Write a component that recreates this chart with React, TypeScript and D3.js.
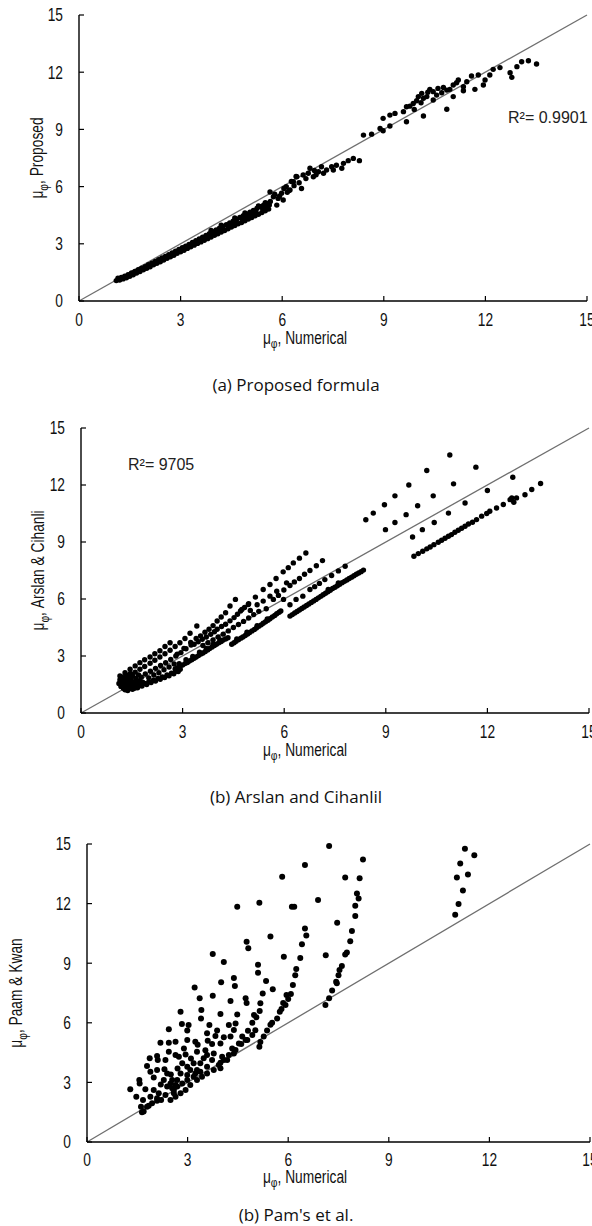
import React from 'react';
import * as d3 from 'd3';

type P = [number, number];

const tickValues = [0, 3, 6, 9, 12, 15];
const tickLabels = ['0', '3', '6', '9', '12', '15'];
const yTitles = ['Proposed', 'Arslan  & Cihanli', 'Paam  & Kwan'];
const captions = ['(a) Proposed formula', '(b) Arslan and Cihanlil', "(b) Pam's et al."];
const r2Labels = ['R²= 0.9901', 'R²= 9705', ''];

const proposedPts: P[] = [
  [1.1,1.07],[1.15,1.2],[1.2,1.1],[1.25,1.24],[1.3,1.16],[1.35,1.3],[1.4,1.22],[1.45,1.38],[1.5,1.3],[1.55,1.47],
  [1.6,1.38],[1.65,1.55],[1.7,1.47],[1.75,1.64],[1.8,1.55],[1.85,1.72],[1.9,1.64],[1.95,1.8],[2.0,1.72],[2.05,1.9],
  [2.1,1.8],[2.15,1.98],[2.2,1.9],[2.25,2.07],[2.3,1.98],[2.35,2.16],[2.4,2.06],[2.45,2.26],[2.5,2.15],[2.55,2.34],
  [2.6,2.24],[2.65,2.43],[2.7,2.32],[2.75,2.52],[2.8,2.4],[2.85,2.61],[2.9,2.5],[2.95,2.7],[3.0,2.58],[3.05,2.79],
  [3.1,2.66],[3.15,2.88],[3.2,2.76],[3.25,2.97],[3.3,2.84],[3.35,3.07],[3.4,2.93],[3.45,3.16],[3.5,3.02],[3.55,3.25],
  [3.6,3.1],[3.65,3.35],[3.7,3.19],[3.75,3.44],[3.8,3.27],[3.85,3.53],[3.9,3.36],[3.95,3.63],[4.0,3.45],[4.05,3.72],
  [4.1,3.53],[4.15,3.82],[4.2,3.62],[4.25,3.91],[4.3,3.7],[4.35,4.0],[4.4,3.79],[4.45,4.1],[4.5,3.88],[4.55,4.19],
  [4.6,3.96],[4.65,4.28],[4.7,4.05],[4.75,4.38],[4.8,4.12],[4.85,4.47],[4.9,4.21],[4.95,4.57],[5.0,4.3],[5.05,4.66],
  [5.1,4.38],[5.15,4.75],[5.2,4.47],[5.25,4.85],[5.3,4.55],[5.35,4.94],[5.4,4.64],[5.45,5.03],[5.5,4.73],[5.55,5.12],
  [5.6,4.82],[5.65,5.22],[5.3,4.98],[5.5,5.15],[4.6,4.35],[4.9,4.62],[4.2,3.98],[3.9,3.7],
  [1.22,1.17],[1.42,1.3],[1.62,1.47],[1.82,1.64],[2.02,1.82],[2.22,1.99],[2.42,2.16],[2.62,2.34],[2.82,2.51],[3.02,2.69],
  [3.22,2.87],[3.42,3.05],[3.62,3.23],[3.82,3.41],[4.02,3.6],[4.22,3.77],[4.42,3.95],[4.62,4.13],[4.82,4.31],[5.02,4.49],
  [5.22,4.67],[5.42,4.86],[5.62,5.03],[3.32,2.95],[3.72,3.31],[4.12,3.68],[4.52,4.05],[4.92,4.41],[5.12,4.6],[5.52,4.94],
  [5.64,5.72],[5.74,5.47],[5.84,5.03],[5.88,5.38],[5.98,5.65],[6.03,5.3],[6.12,6.0],[6.2,5.8],[6.27,6.27],[6.41,6.53],
  [6.23,5.82],[6.33,6.26],[6.43,6.52],[6.57,5.9],[6.62,6.61],[6.77,6.7],[6.82,6.96],[6.92,6.52],[7.07,6.78],[7.16,7.04],
  [7.22,6.7],[7.31,6.87],[7.46,7.04],[7.51,6.87],[7.76,6.96],[7.81,7.22],[7.95,7.36],[8.1,7.48],[8.28,7.36],[6.5,6.2],
  [6.7,6.42],[7.0,6.62],[7.6,7.12],[6.05,5.9],[6.35,6.05],[6.95,6.85],[5.78,5.6],[5.92,5.5],[6.15,5.7],
  [8.4,8.7],[8.64,8.75],[8.89,9.05],[8.98,9.58],[8.98,8.93],[9.18,9.75],[9.18,9.18],[9.33,9.84],[9.58,9.93],[9.67,9.4],
  [9.67,10.19],[9.77,10.22],[9.87,10.36],[9.97,10.5],[10.02,10.72],[10.12,10.89],[10.17,10.63],[10.17,9.7],[10.27,10.72],[10.36,11.1],
  [10.46,10.98],[10.46,10.54],[10.56,10.8],[10.71,10.92],[10.76,11.2],[10.86,11.06],[10.86,10.06],[10.95,11.1],[11.05,11.33],[11.05,10.72],
  [11.15,11.45],[11.2,11.59],[11.35,11.24],[11.35,11.03],[11.45,11.5],[11.59,11.8],[11.69,11.1],[11.79,11.85],[11.94,11.33],[11.99,11.59],
  [12.13,11.85],[12.23,12.15],[12.43,12.24],[12.73,11.97],[12.78,11.73],[12.93,12.29],[13.07,12.55],[13.27,12.6],[13.51,12.43],
  [10.3,10.95],[10.6,11.15],[10.1,10.4],[9.9,10.05]
];

const arslanPts: P[] = [
  [1.3,1.22],[1.38,1.18],[1.45,1.3],[1.52,1.25],[1.6,1.38],[1.67,1.33],[1.74,1.46],[1.8,1.42],[1.88,1.55],[1.94,1.5],
  [2.0,1.64],[2.07,1.6],[2.14,1.72],[2.2,1.68],[2.27,1.82],[2.34,1.78],[2.4,1.9],[2.47,1.87],[2.54,2.0],[2.6,1.96],
  [2.67,2.1],[2.74,2.06],[2.8,2.2],[2.87,2.18],[2.93,2.3],
  [1.12,1.55],[1.15,1.75],[1.18,1.4],[1.2,1.9],[1.22,1.62],[1.25,1.3],[1.28,1.8],[1.3,1.5],[1.33,2.0],[1.35,1.68],
  [1.38,1.38],[1.4,1.88],[1.43,1.55],[1.46,2.08],[1.48,1.75],[1.5,1.45],[1.53,1.95],[1.56,1.62],[1.58,1.3],[1.62,1.82],
  [1.65,1.55],[1.7,2.0],[1.72,1.7],[1.78,1.88],[1.82,1.62],
  [1.15,1.95],[1.3,2.12],[1.45,2.3],[1.6,2.48],[1.74,2.65],[1.88,2.8],[2.04,2.95],[2.18,3.12],[2.33,3.28],[2.48,3.5],[2.63,3.7],
  [1.6,2.15],[1.74,2.3],[1.88,2.45],[2.04,2.62],[2.18,2.78],[2.33,2.95],[2.48,3.12],[2.63,3.3],[2.78,3.5],[2.92,3.7],[3.07,3.92],[3.22,4.2],[3.42,4.58],
  [1.9,2.05],[2.05,2.2],[2.2,2.35],[2.35,2.5],[2.5,2.65],[2.65,2.82],[2.8,3.0],[2.95,3.18],[3.1,3.38],[3.25,3.58],
  [2.0,1.85],[2.15,2.0],[2.3,2.12],[2.45,2.28],[2.6,2.42],[2.75,2.58],
  [2.78,2.32],[2.85,2.38],[2.92,2.45],[3.0,2.52],[3.07,2.6],[3.14,2.66],[3.2,2.74],[3.27,2.8],[3.34,2.88],[3.4,2.95],
  [3.47,3.02],[3.54,3.1],[3.6,3.16],[3.67,3.24],[3.74,3.32],[3.8,3.4],[3.87,3.47],[3.94,3.55],[4.0,3.62],[4.07,3.7],
  [4.14,3.76],[4.2,3.84],[4.27,3.9],[4.34,3.96],[2.9,2.6],[3.1,2.8],[3.3,2.98],[3.5,3.2],[3.7,3.4],[3.9,3.62],[4.1,3.85],
  [2.84,3.1],[3.04,3.4],[3.24,3.71],[3.4,3.92],[3.53,4.06],[3.66,4.25],[3.78,4.41],[3.9,4.6],[4.02,4.84],[4.14,5.05],[4.27,5.28],[4.4,5.63],[4.56,5.98],
  [3.34,3.62],[3.46,3.75],[3.58,3.88],[3.7,4.0],[3.83,4.14],[3.94,4.28],[4.02,4.41],[4.15,4.55],[4.27,4.67],[4.4,4.85],[4.52,5.02],[4.62,5.2],[4.71,5.37],[4.83,5.55],[4.94,5.71],
  [3.6,3.55],[3.75,3.7],[3.9,3.85],[4.05,4.0],[4.2,4.15],[4.35,4.32],[4.5,4.5],[4.65,4.66],[4.8,4.82],[4.95,5.0],[5.1,5.18],[5.25,5.35],
  [4.45,3.62],[4.52,3.7],[4.58,3.78],[4.65,3.86],[4.72,3.94],[4.78,4.0],[4.85,4.08],[4.92,4.16],[4.98,4.24],[5.05,4.32],
  [5.12,4.4],[5.18,4.48],[5.25,4.56],[5.32,4.64],[5.38,4.72],[5.45,4.8],[5.52,4.88],[5.58,4.96],[5.65,5.05],[5.72,5.13],
  [5.78,5.22],[5.85,5.3],[5.9,5.37],[4.6,3.9],[4.9,4.25],[5.2,4.6],[5.5,4.95],
  [4.75,5.45],[4.95,5.75],[5.15,6.1],[5.38,6.5],[5.58,6.76],[5.76,7.08],[5.97,7.43],[6.12,7.65],[6.27,7.9],[6.45,8.15],[6.64,8.42],
  [5.47,5.49],[5.68,5.98],[5.83,6.19],[5.99,6.47],[6.17,6.71],[6.3,6.9],[6.45,7.08],[6.6,7.3],[6.76,7.5],[6.95,7.75],[7.13,8.02],
  [6.17,5.7],[6.35,5.98],[6.55,6.15],[6.76,6.5],[6.9,6.65],[7.04,6.82],[7.2,7.02],[7.4,7.24],[7.6,7.48],[7.8,7.72],
  [5.78,6.41],[5.58,6.15],[5.38,5.89],[5.98,5.98],[6.07,6.85],[5.2,5.7],[5.0,5.4],
  [6.17,5.1],[6.24,5.18],[6.31,5.26],[6.38,5.34],[6.45,5.42],[6.52,5.5],[6.59,5.58],[6.66,5.66],[6.73,5.74],[6.8,5.82],
  [6.87,5.9],[6.94,5.98],[7.01,6.06],[7.08,6.14],[7.15,6.22],[7.22,6.3],[7.29,6.38],[7.36,6.46],[7.43,6.55],[7.5,6.62],
  [7.57,6.7],[7.64,6.78],[7.71,6.86],[7.78,6.93],[7.85,7.0],[7.92,7.08],[7.99,7.15],[8.06,7.22],[8.13,7.3],[8.2,7.37],
  [8.27,7.44],[8.34,7.52],[7.3,6.5],[7.6,6.85],
  [8.41,10.17],[8.63,10.52],[8.96,10.96],[9.27,11.43],[9.68,12.0],[10.21,12.76],[10.89,13.58],
  [8.99,9.65],[9.27,10.03],[9.6,10.44],[9.94,10.91],[10.4,11.43],[11.0,12.06],[11.66,12.94],
  [9.79,9.26],[10.08,9.65],[10.43,10.03],[10.85,10.52],[11.34,11.05],[12.0,11.71],[12.75,12.41],
  [9.83,8.25],[9.96,8.39],[10.09,8.51],[10.21,8.64],[10.31,8.74],[10.42,8.86],[10.55,8.99],[10.65,9.09],[10.75,9.2],[10.85,9.3],
  [10.94,9.39],[11.04,9.51],[11.14,9.62],[11.24,9.72],[11.34,9.83],[11.44,9.95],[11.56,10.04],[11.68,10.18],[11.83,10.36],[11.98,10.5],
  [12.07,10.62],[12.27,10.79],[12.47,10.97],[12.67,11.23],[12.86,11.32],[13.11,11.49],[13.31,11.76],[13.57,12.08],[12.72,11.32],[12.78,11.09]
];

const pamPts: P[] = [
  [5.82,13.35],[5.14,12.04],[4.48,11.84],[5.47,10.34],[5.87,9.33],[4.76,10.08],[4.81,9.75],[3.75,9.46],[4.08,9.06],[5.1,8.92],
  [5.1,8.52],[5.34,8.1],[5.54,7.69],[4.38,8.25],[4.41,7.85],[4.0,8.04],[3.21,7.78],[3.75,7.36],[3.36,7.23],[4.28,7.1],
  [4.73,7.23],[4.76,7.0],[5.24,7.48],[5.17,6.98],[2.79,6.56],[3.41,6.64],[3.98,6.44],[4.48,6.42],[5.15,6.59],[4.98,6.39],
  [5.05,6.28],[5.85,7.0],[5.95,7.4],[5.75,6.56],[5.67,6.22],[5.52,6.0],[5.47,5.9],[5.37,5.61],[5.27,5.31],[5.17,5.03],
  [5.14,4.8],[2.83,5.94],[3.03,5.89],[2.99,5.61],[2.44,5.67],[3.4,6.22],[3.65,5.89],[3.88,5.61],[3.58,5.47],[3.83,5.34],
  [2.99,5.13],[3.23,5.05],[3.28,4.54],[3.53,4.62],[3.73,4.93],[3.98,4.96],[4.08,5.27],[4.28,5.31],[4.38,5.64],[4.43,5.97],
  [4.23,5.89],[4.63,5.31],[4.73,5.13],[4.8,5.6],[4.93,6.0],[2.64,5.05],[2.44,5.0],[2.19,5.0],[2.44,4.54],[2.64,4.38],
  [2.94,4.41],[2.89,4.71],[2.09,4.33],[2.11,4.13],[2.34,4.13],[1.87,4.21],[1.79,3.82],[1.89,3.54],[2.09,3.62],[2.31,3.66],
  [2.39,3.45],[1.99,3.25],[2.29,3.12],[1.56,3.12],[1.57,2.95],[1.29,2.65],[1.74,2.65],[1.47,2.28],[1.67,2.11],[1.89,2.28],
  [1.99,2.62],[2.14,2.45],[2.21,2.11],[1.61,1.78],[1.79,1.78],[1.69,1.53],[1.94,1.95],[2.59,2.45],[2.69,2.79],[2.84,2.95],
  [2.99,3.12],[2.49,2.95],[2.54,2.7],[2.79,3.45],[2.99,3.37],[3.08,3.62],[3.18,3.96],[2.99,3.79],[2.84,3.96],[2.74,4.29],
  [3.28,3.62],[3.38,3.96],[3.48,4.21],[3.58,4.38],[3.78,4.46],[4.03,4.29],[4.18,4.13],[3.98,3.99],[3.73,4.13],[3.58,3.79],
  [3.38,3.54],[3.18,3.29],[3.23,3.45],[4.33,4.71],[4.53,4.96],[4.38,4.46],[3.98,3.71],[2.69,3.12],[2.64,2.87],[2.39,2.79],
  [2.09,2.2],[2.54,3.12],[2.49,2.11],[2.64,2.28],[2.79,2.45],[2.94,2.62],[3.08,2.87],[3.28,3.12],[3.43,3.29],[3.58,3.45],
  [3.78,3.62],[3.93,3.87],[4.08,4.13],[4.23,4.38],[4.43,4.63],[4.6,4.93],[4.78,5.13],[4.93,5.38],[5.02,5.63],[1.64,1.5],
  [1.84,1.83],[2.09,2.08],[2.34,2.37],[2.59,2.62],[2.2,2.9],[2.5,3.4],[2.7,3.7],[3.1,4.2],[3.3,4.9],[3.6,5.1],
  [7.22,14.9],[6.5,13.94],[8.23,14.22],[7.7,13.32],[8.13,13.27],[8.05,12.51],[8.1,12.26],[8.0,11.89],[8.0,11.37],[7.9,10.62],
  [7.85,10.11],[7.75,9.54],[7.7,9.44],[7.6,8.86],[7.53,8.66],[7.5,8.39],[7.43,8.07],[7.45,7.99],[7.31,7.63],[7.22,7.23],
  [7.11,6.9],[7.46,11.04],[6.89,12.18],[7.12,9.4],[6.18,11.84],[6.11,11.84],[6.5,10.75],[6.54,10.4],[6.41,9.95],[6.36,9.26],
  [6.24,8.71],[6.21,8.39],[6.14,7.9],[6.08,7.45],[6.0,7.2],[5.92,6.9],[5.8,6.7],
  [11.27,14.76],[11.55,14.43],[11.13,14.02],[11.03,13.32],[11.36,13.47],[11.21,12.66],[11.08,11.98],[10.98,11.44]
];

const panelData: P[][] = [proposedPts, arslanPts, pamPts];
const dotRadius = [2.7, 2.7, 3.0];

const layouts = [
  { x0: 79, x1: 587, y0: 301, y1: 15, yTitleX: 37, xTitleY: 344, captionY: 391, tickLabelY: 326, r2X: 508, r2Y: 123 },
  { x0: 81, x1: 589, y0: 713, y1: 428, yTitleX: 38, xTitleY: 756, captionY: 803, tickLabelY: 738, r2X: 128, r2Y: 470 },
  { x0: 87, x1: 590, y0: 1142, y1: 844, yTitleX: 16, xTitleY: 1183, captionY: 1221, tickLabelY: 1166, r2X: 0, r2Y: 0 },
];

const baseFont = "'Liberation Sans', Arial, Helvetica, sans-serif";
const captionFont = "'Open Sans', 'Noto Sans', sans-serif";
const SX = 0.86;
const SY = 1.12;

function NText({ x, y, anchor, size, rotate, dy, children }: { x: number; y: number; anchor: string; size: number; rotate?: number; dy?: string; children: React.ReactNode }) {
  const tr = `translate(${x},${y})${rotate ? ` rotate(${rotate})` : ''} scale(${SX},${SY})`;
  return (
    <text transform={tr} textAnchor={anchor} dy={dy} fontFamily={baseFont} fontSize={size} fill="#111">
      {children}
    </text>
  );
}

function Panel({ idx }: { idx: number }) {
  const L = layouts[idx];
  const pts = panelData[idx];
  const x = d3.scaleLinear().domain([0, 15]).range([L.x0, L.x1]);
  const y = d3.scaleLinear().domain([0, 15]).range([L.y0, L.y1]);
  const midY = (L.y0 + L.y1) / 2;
  return (
    <g>
      <line x1={x(0)} y1={y(0)} x2={x(15)} y2={y(15)} stroke="#6f6f6f" strokeWidth={1.3} />
      {pts.map((p, i) => (
        <circle key={i} cx={x(p[0])} cy={y(p[1])} r={dotRadius[idx]} fill="#000" />
      ))}
      <line x1={L.x0} y1={L.y0} x2={L.x0} y2={L.y1} stroke="#000" strokeWidth={1.4} />
      <line x1={L.x0} y1={L.y0} x2={L.x1} y2={L.y0} stroke="#000" strokeWidth={1.4} />
      {tickValues.map((t, i) => (
        <g key={'t' + i}>
          <line x1={L.x0} x2={L.x0 + 5} y1={y(t)} y2={y(t)} stroke="#000" strokeWidth={1.2} />
          <line x1={x(t)} x2={x(t)} y1={L.y0} y2={L.y0 - 5} stroke="#000" strokeWidth={1.2} />
          <NText x={L.x0 - 16} y={y(t)} anchor="end" size={16} dy="0.36em">{tickLabels[i]}</NText>
          <NText x={x(t)} y={L.tickLabelY} anchor="middle" size={16}>{tickLabels[i]}</NText>
        </g>
      ))}
      <NText x={L.yTitleX} y={midY} anchor="middle" size={16} rotate={-90} dy="0.35em">
        <tspan>μ</tspan>
        <tspan fontSize={12} dy={4}>φ</tspan>
        <tspan dy={-4}>{', ' + yTitles[idx]}</tspan>
      </NText>
      <NText x={305} y={L.xTitleY} anchor="middle" size={16}>
        <tspan>μ</tspan>
        <tspan fontSize={12} dy={4}>φ</tspan>
        <tspan dy={-4}>, Numerical</tspan>
      </NText>
      <text x={296} y={L.captionY} textAnchor="middle" fontFamily={captionFont} fontSize={17} fill="#111">
        {captions[idx]}
      </text>
      {r2Labels[idx] ? (
        <text x={L.r2X} y={L.r2Y} fontFamily={baseFont} fontSize={16} fill="#222">
          {r2Labels[idx]}
        </text>
      ) : null}
    </g>
  );
}

export default function App() {
  return (
    <svg
      width={592}
      height={1226}
      viewBox="0 0 592 1226"
      style={{ position: 'absolute', left: 0, top: 0, display: 'block', background: '#fff' }}
    >
      <rect x={0} y={0} width={592} height={1226} fill="#fff" />
      {[0, 1, 2].map((i) => (
        <Panel key={i} idx={i} />
      ))}
    </svg>
  );
}
